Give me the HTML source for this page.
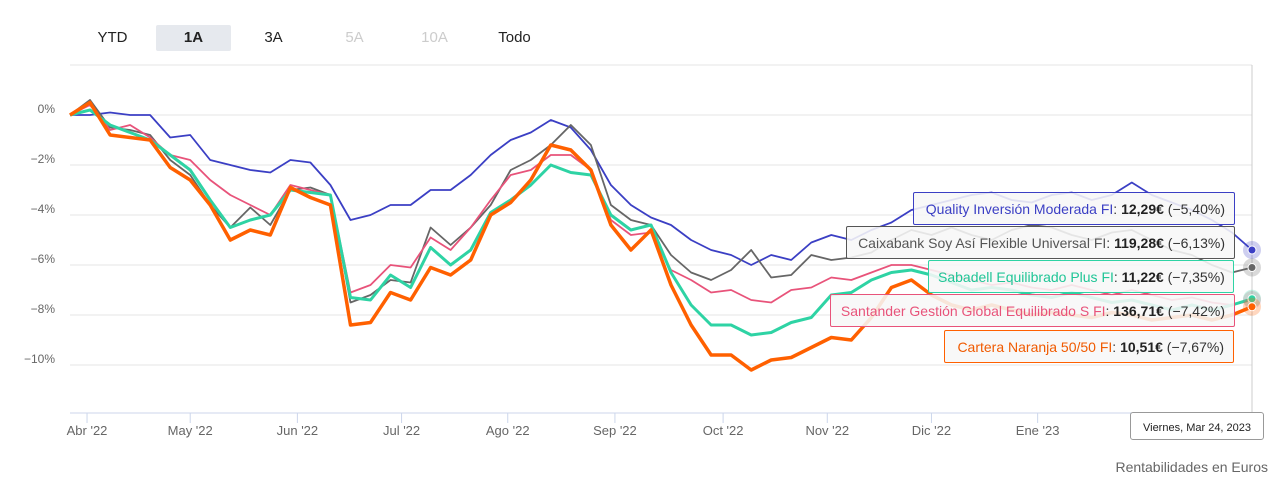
<!DOCTYPE html>
<html><head><meta charset="utf-8">
<style>
body{margin:0;width:1287px;height:495px;background:#fff;font-family:"Liberation Sans",sans-serif;overflow:hidden;position:relative}
.btn{position:absolute;top:25px;height:26px;line-height:26px;font-size:15px;color:#222;text-align:center;width:75px;border-radius:2px}
.tt{position:absolute;height:33px;line-height:33px;font-size:14px;background:rgba(247,247,247,0.88);border:1px solid;border-radius:2px;padding:0 9px;white-space:nowrap;color:#333;box-sizing:border-box;text-align:right;overflow:hidden}
.tt b{color:#222}
</style></head><body>
<div class="btn" style="left:75px">YTD</div>
<div class="btn" style="left:156px;background:#e6e9ee;font-weight:bold">1A</div>
<div class="btn" style="left:236px">3A</div>
<div class="btn" style="left:317px;color:#ccc">5A</div>
<div class="btn" style="left:397px;color:#ccc">10A</div>
<div class="btn" style="left:477px">Todo</div>
<svg id="chart" width="1287" height="495" style="position:absolute;left:0;top:0"></svg>
<div class="tt" style="left:913px;top:192px;width:322px;border-color:#3b3fc4;color:#3b3fc4">Quality Inversión Moderada FI<span style="color:#333">: <b>12,29€</b> (−5,40%)</span></div>
<div class="tt" style="left:846px;top:226px;width:389px;border-color:#555;color:#555">Caixabank Soy Así Flexible Universal FI<span style="color:#333">: <b>119,28€</b> (−6,13%)</span></div>
<div class="tt" style="left:928px;top:260px;width:306px;border-color:#2ed3a4;color:#1fc596">Sabadell Equilibrado Plus FI<span style="color:#333">: <b>11,22€</b> (−7,35%)</span></div>
<div class="tt" style="left:830px;top:294px;width:405px;border-color:#e8537a;color:#e8537a">Santander Gestión Global Equilibrado S FI<span style="color:#333">: <b>136,71€</b> (−7,42%)</span></div>
<div class="tt" style="left:944px;top:330px;width:290px;border-color:#ff6000;color:#f05a00">Cartera Naranja 50/50 FI<span style="color:#333">: <b>10,51€</b> (−7,67%)</span></div>
<div style="position:absolute;left:1130px;top:412px;width:134px;height:28px;line-height:30px;font-size:11px;color:#222;background:#fff;border:1px solid #999;box-sizing:border-box;text-align:center;border-radius:3px">Viernes, Mar 24, 2023</div>
<div style="position:absolute;right:19px;top:459px;font-size:14px;color:#666">Rentabilidades en Euros</div>
<script>
const yTicks=[0,-2,-4,-6,-8,-10];
const monthLabels=["Abr '22","May '22","Jun '22","Jul '22","Ago '22","Sep '22","Oct '22","Nov '22","Dic '22","Ene '23"];
const monthIdx=[0.85,6.0,11.35,16.55,21.85,27.2,32.6,37.8,43.0,48.3];
const quality=[0,0,0.1,0,0,-0.9,-0.8,-1.8,-2,-2.2,-2.3,-1.8,-1.9,-2.8,-4.2,-4,-3.6,-3.6,-3,-3,-2.4,-1.6,-1,-0.7,-0.2,-0.5,-1.4,-2.8,-3.6,-4.1,-4.4,-5,-5.4,-5.6,-6,-5.6,-5.8,-5.1,-4.8,-5,-4.6,-4.3,-3.8,-3.6,-3.4,-3.2,-3.1,-3.4,-3.5,-3.2,-3.1,-3.4,-3.2,-2.7,-3.2,-3.5,-3.8,-4.2,-4.7,-5.4];
const caixa=[0,0.6,-0.5,-0.6,-0.8,-1.8,-2.4,-3.6,-4.5,-3.7,-4.4,-3,-2.9,-3.2,-7.5,-7.2,-6.6,-6.7,-4.5,-5.2,-4.5,-3.6,-2.2,-1.8,-1.2,-0.4,-1.2,-3.6,-4.2,-4.4,-5.6,-6.3,-6.6,-6.2,-5.4,-6.5,-6.4,-5.6,-5.8,-5.7,-5.5,-5,-4.6,-4.8,-4.5,-4.8,-5,-4.6,-4.4,-4.5,-4.8,-5,-4.7,-4.6,-5,-5.4,-5.6,-6,-6.3,-6.1];
const santander=[0,0.4,-0.6,-0.4,-0.9,-1.6,-1.8,-2.6,-3.2,-3.6,-4,-2.8,-3,-3.2,-7.1,-6.8,-6,-6.1,-4.9,-5.4,-4.5,-3.4,-2.4,-2.2,-1.6,-1.6,-2.2,-4.2,-4.8,-4.7,-6.2,-6.6,-7.1,-7,-7.4,-7.5,-7,-6.9,-6.5,-6.6,-6.3,-6,-6,-6.2,-6.4,-6.6,-6.8,-6.7,-6.9,-7,-6.8,-7,-7.2,-7,-7.2,-7.4,-7.3,-7.5,-7.6,-7.4];
const sabadell=[0,0.2,-0.4,-0.7,-1,-1.6,-2.2,-3.4,-4.5,-4.2,-4,-3,-3.1,-3.2,-7.3,-7.4,-6.4,-6.9,-5.3,-6,-5.4,-3.9,-3.4,-2.8,-2,-2.3,-2.4,-4,-4.6,-4.4,-6.3,-7.6,-8.4,-8.4,-8.8,-8.7,-8.3,-8.1,-7.2,-7.1,-6.6,-6.3,-6.2,-6.4,-6.7,-7,-6.9,-7,-7.2,-7.3,-7.1,-7.3,-7.5,-7.4,-7.6,-7.8,-7.6,-7.8,-7.6,-7.35];
const naranja=[0,0.5,-0.8,-0.9,-1,-2.1,-2.6,-3.6,-5,-4.6,-4.8,-2.9,-3.3,-3.6,-8.4,-8.3,-7.1,-7.4,-6.1,-6.4,-5.8,-4,-3.5,-2.6,-1.2,-1.4,-2.2,-4.4,-5.4,-4.6,-6.8,-8.4,-9.6,-9.6,-10.2,-9.8,-9.7,-9.3,-8.9,-9,-8.1,-6.9,-6.6,-7.2,-7.6,-7.8,-7.6,-7.8,-8,-7.9,-8,-8.1,-7.9,-8,-8.2,-8.1,-8,-8.2,-8,-7.67];
const NS="http://www.w3.org/2000/svg";
const svg=document.getElementById('chart');
const x0=70,x1=1252,n=quality.length;
const X=i=>x0+(x1-x0)*i/(n-1);
const Y=v=>115-25*v;
function mk(t,a){const e=document.createElementNS(NS,t);for(const k in a)e.setAttribute(k,a[k]);svg.appendChild(e);return e;}
const gl=[2].concat(yTicks);
gl.forEach(v=>{const l=mk('line',{x1:x0,x2:x1,y1:Y(v),y2:Y(v),stroke:'#e6e6e6','stroke-width':1});

});
yTicks.forEach(v=>{const t=mk('text',{x:55,y:Y(v)-2,'text-anchor':'end','font-size':12,fill:'#666'});t.textContent=(v<0?'−':'')+Math.abs(v)+'%';

});
const ax=mk('line',{x1:x0,x2:x1,y1:413,y2:413,stroke:'#ccd6eb','stroke-width':1});


monthLabels.forEach((m,k)=>{const x=X(monthIdx[k]);mk('line',{x1:x,x2:x,y1:413,y2:423,stroke:'#ccd6eb'});
const t=mk('text',{x:x,y:435,'text-anchor':'middle','font-size':13,fill:'#666'});t.textContent=m;

});
const ch=mk('line',{x1:x1,x2:x1,y1:65,y2:413,stroke:'#ccc'});


const ser=[[quality,'#3b3fc4',1.8,'quality-line'],[caixa,'#666',1.8,'caixabank-line'],[santander,'#e8537a',1.8,'santander-line'],[sabadell,'#2ed3a4',3,'sabadell-line'],[naranja,'#ff6000',3.5,'naranja-line']];
ser.forEach(s=>{const p=mk('path',{d:s[0].map((v,i)=>(i?'L':'M')+X(i).toFixed(1)+','+Y(v).toFixed(1)).join(''),fill:'none',stroke:s[1],'stroke-width':s[2],'stroke-linejoin':'round'});

});
ser.forEach(s=>{const v=s[0][n-1];mk('circle',{cx:x1,cy:Y(v),r:9,fill:s[1],opacity:0.25});
const c=mk('circle',{cx:x1,cy:Y(v),r:4,fill:s[1],stroke:'#fff','stroke-width':1});

});
</script>
</body></html>
